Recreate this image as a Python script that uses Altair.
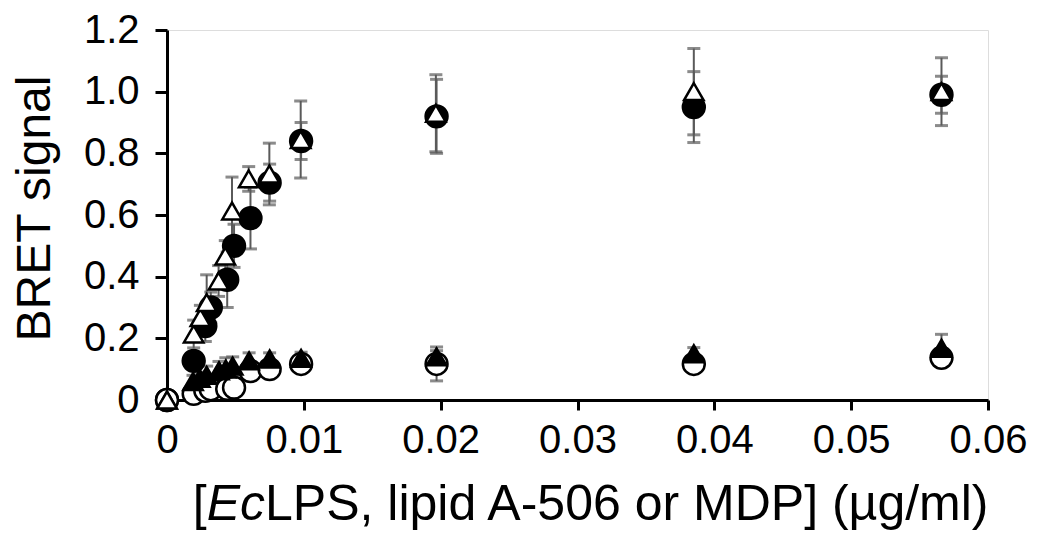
import altair as alt
import pandas as pd

# ---- data ----
# open triangles (rising series)
tri_open_x = [0, 0.00195, 0.00244, 0.0029, 0.00377, 0.00426, 0.00475, 0.00597, 0.00748, 0.00977, 0.01965, 0.0385, 0.0566]
tri_open_y = [0, 0.214, 0.267, 0.316, 0.386, 0.467, 0.613, 0.717, 0.733, 0.845, 0.93, 1.0, 1.0]
tri_open_sd = [0, 0.045, 0.04, 0.09, 0.05, 0.05, 0.11, 0.04, 0.10, 0.125, 0.125, 0.14, 0.11]

# filled circles (rising series)
circ_fill_x = [0, 0.00195, 0.0028, 0.0032, 0.0044, 0.0049, 0.0061, 0.0075, 0.0098, 0.0197, 0.0385, 0.0566]
circ_fill_y = [0, 0.127, 0.24, 0.30, 0.39, 0.50, 0.59, 0.705, 0.84, 0.92, 0.95, 0.99]
circ_fill_sd = [0, 0.02, 0.05, 0.05, 0.09, 0.07, 0.10, 0.06, 0.06, 0.12, 0.115, 0.06]

# filled triangles (low series)
tri_fill_x = [0, 0.0019, 0.0024, 0.0029, 0.0038, 0.0043, 0.0048, 0.006, 0.0075, 0.0098, 0.0197, 0.0385, 0.0566]
tri_fill_y = [0, 0.06, 0.07, 0.08, 0.095, 0.10, 0.11, 0.127, 0.133, 0.135, 0.14, 0.15, 0.168]
tri_fill_sd = [0, 0.02, 0.02, 0.03, 0.03, 0.037, 0.03, 0.026, 0.02, 0.02, 0.02, 0.02, 0.045]

# open circles (low series)
circ_open_x = [0, 0.00195, 0.0028, 0.0032, 0.0044, 0.0049, 0.0061, 0.0075, 0.0098, 0.0197, 0.0385, 0.0566]
circ_open_y = [0, 0.02, 0.03, 0.035, 0.036, 0.04, 0.094, 0.10, 0.117, 0.117, 0.117, 0.137]
circ_open_sd = [0, 0.01, 0.01, 0.01, 0.01, 0.01, 0.02, 0.02, 0.02, 0.055, 0.02, 0.02]

x_ticks = [0, 0.01, 0.02, 0.03, 0.04, 0.05, 0.06]
y_ticks = [0, 0.2, 0.4, 0.6, 0.8, 1.0, 1.2]


def frame(xs, ys, sds, name):
    return pd.DataFrame({"x": xs, "y": ys, "sd": sds, "series": name})


df = pd.concat([
    frame(circ_fill_x, circ_fill_y, circ_fill_sd, "circ_fill"),
    frame(circ_open_x, circ_open_y, circ_open_sd, "circ_open"),
    frame(tri_fill_x, tri_fill_y, tri_fill_sd, "tri_fill"),
    frame(tri_open_x, tri_open_y, tri_open_sd, "tri_open"),
], ignore_index=True)

FONT = "Liberation Sans"
W, H = 821, 370

xscale = alt.Scale(domain=[0, 0.06], nice=False, zero=False)
yscale = alt.Scale(domain=[0, 1.2], nice=False)

x_axis = alt.Axis(values=x_ticks, format=".2~f", title=None, grid=False,
                  domainColor="black", domainWidth=3, tickColor="black", tickWidth=3,
                  tickSize=10, labelFontSize=40, labelFont=FONT, labelColor="black",
                  labelPadding=10, labelFlush=False, labelOverlap=False)
y_axis = alt.Axis(values=y_ticks, labelExpr="datum.value == 0 ? '0' : format(datum.value, '.1f')",
                  title="BRET signal", titleFont=FONT, titleFontSize=48, titleFontWeight="normal",
                  titleColor="black", titleX=-108, titleY=178, grid=False,
                  domainColor="black", domainWidth=3, tickColor="black", tickWidth=3,
                  tickSize=12, labelFontSize=40, labelFont=FONT, labelColor="black",
                  labelPadding=16, labelFlush=False, labelOverlap=False)

base = alt.Chart(df).encode(
    x=alt.X("x:Q", scale=xscale, axis=x_axis),
    y=alt.Y("y:Q", scale=yscale, axis=y_axis),
)

err = alt.Chart(df).transform_filter("datum.sd > 0").transform_calculate(
    lo="datum.y - datum.sd", hi="datum.y + datum.sd")
ERR_COL = "#5a5a5a"
err_rule = err.mark_rule(color=ERR_COL, strokeWidth=2).encode(
    x=alt.X("x:Q", scale=xscale), y=alt.Y("lo:Q", scale=yscale), y2="hi:Q")
cap_hi = err.mark_tick(color=ERR_COL, thickness=3, size=13, orient="horizontal").encode(
    x=alt.X("x:Q", scale=xscale), y=alt.Y("hi:Q", scale=yscale))
cap_lo = err.mark_tick(color=ERR_COL, thickness=3, size=13, orient="horizontal").encode(
    x=alt.X("x:Q", scale=xscale), y=alt.Y("lo:Q", scale=yscale))


def pts(name, shape, filled, size):
    return base.transform_filter(alt.datum.series == name).mark_point(
        shape=shape, filled=True, size=size, opacity=1,
        fill="black" if filled else "white", stroke="black", strokeWidth=2.5)


l_cf = pts("circ_fill", "circle", True, 480)
l_co = pts("circ_open", "circle", False, 480)
l_tf = pts("tri_fill", "triangle-up", True, 380)
l_to = pts("tri_open", "triangle-up", False, 380)

# x-axis title with italic "Ec"
TF = 50
title_df = pd.DataFrame({"t": [0]})
tx0 = 98
ty = 490
t_rest = alt.Chart(title_df).mark_text(font=FONT, fontSize=TF, align="left", baseline="alphabetic", color="black").encode(
    x=alt.value(tx0), y=alt.value(ty), text=alt.value("LPS, lipid A-506 or MDP] (µg/ml)"))
t_ec = alt.Chart(title_df).mark_text(font=FONT, fontSize=TF, fontStyle="italic", align="right", baseline="alphabetic", color="black").encode(
    x=alt.value(tx0), y=alt.value(ty), text=alt.value("Ec"))
t_br = alt.Chart(title_df).mark_text(font=FONT, fontSize=TF, align="right", baseline="alphabetic", color="black").encode(
    x=alt.value(tx0 - 1.167 * TF), y=alt.value(ty), text=alt.value("["))

chart = alt.layer(err_rule, cap_hi, cap_lo, l_cf, l_co, l_tf, l_to, t_rest, t_ec, t_br).properties(
    width=W, height=H,
    autosize=alt.AutoSizeParams(type="none"),
    padding={"left": 159, "top": 22, "right": 45, "bottom": 136},
).configure_view(stroke=None).configure(background="white")

chart.save("out.html", embed_options={"renderer": "svg", "actions": False})
